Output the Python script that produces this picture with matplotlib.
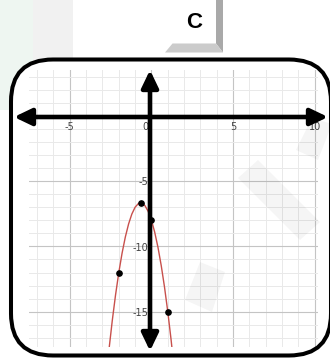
import matplotlib
matplotlib.use('Agg')
import matplotlib.pyplot as plt
from matplotlib.patches import FancyBboxPatch, Polygon, Rectangle

# curve (x, y)
curve_x = [-2.6, -2.4, -2.2, -2.0, -1.8, -1.6, -1.4, -1.2, -1.0, -0.8, -0.667,
           -0.6, -0.4, -0.2, 0.0, 0.2, 0.4, 0.6, 0.8, 1.0, 1.2, 1.4]
curve_y = [-17.88, -15.68, -13.72, -12.0, -10.52, -9.28, -8.28, -7.52, -7.0, -6.72, -6.667,
           -6.68, -6.88, -7.32, -8.0, -8.92, -10.08, -11.48, -13.12, -15.0, -17.12, -19.48]

# marked points
point_x = [-2.0, -0.667, 0.0, 1.0]
point_y = [-12.0, -6.667, -8.0, -15.0]

x_tick_labels = [-5, 0, 5, 10]
y_tick_labels = [-5, -10, -15]
panel_label = 'C'

W, H = 330, 360
fig = plt.figure(figsize=(W / 100, H / 100), dpi=100)

# background layer (pixel coordinates)
bg = fig.add_axes([0, 0, 1, 1], zorder=0)
bg.set_xlim(0, W)
bg.set_ylim(H, 0)
bg.axis('off')
bg.add_patch(Rectangle((0, 0), 33, 110, color='#eef6f1', lw=0))
bg.add_patch(Rectangle((33, 0), 40, 70, color='#f1f1f1', lw=0))
bg.add_patch(FancyBboxPatch((11, 59.5), 320, 296, boxstyle='round,pad=0,rounding_size=42',
                            facecolor='white', edgecolor='none'))

# graph
ax = fig.add_axes([29 / W, 13 / H, 289 / W, 277 / H], zorder=1)
ax.set_xlim(-7.5, 10.2)
ax.set_ylim(-17.7, 3.5)
ax.set_facecolor('white')
ax.set_xticks([-5, 0, 5, 10])
ax.set_yticks([-15, -10, -5, 0])
ax.set_xticks(range(-7, 11), minor=True)
ax.set_yticks(range(-17, 4), minor=True)
ax.grid(which='minor', color='#e9e9e9', lw=0.7)
ax.grid(which='major', color='#c4c4c4', lw=0.8)
ax.tick_params(which='both', length=0, labelbottom=False, labelleft=False)
for s in ax.spines.values():
    s.set_visible(False)
ax.set_axisbelow(True)

ax.plot(curve_x, curve_y, color='#c8504c', lw=1.0, zorder=3)
ax.plot(point_x, point_y, 'o', color='black', ms=3.8, zorder=4)

for t in x_tick_labels:
    dx = -0.35 if t == 0 else 0
    ax.text(t + dx, -0.85, str(t).replace('-', '\u2010'), ha='center', va='center',
            fontsize=7, color='#444444', zorder=5)
for t in y_tick_labels:
    ax.text(-0.2, t - 0.1, str(t).replace('-', '\u2010'), ha='right', va='center',
            fontsize=7, color='#444444', zorder=5)

# top layer: frame, axis arrows, panel label
top = fig.add_axes([0, 0, 1, 1], zorder=2)
top.set_xlim(0, W)
top.set_ylim(H, 0)
top.axis('off')
top.patch.set_alpha(0)

# faint watermark strokes
for poly in ([(238, 178), (258, 160), (320, 222), (300, 240)],
             [(296, 150), (312, 118), (332, 124), (318, 160)],
             [(185, 300), (200, 262), (225, 272), (212, 312)]):
    top.add_patch(Polygon(poly, closed=True, color='black', alpha=0.04, lw=0))

top.add_patch(FancyBboxPatch((11, 59.5), 320, 296, boxstyle='round,pad=0,rounding_size=42',
                             facecolor='none', edgecolor='black', lw=2.9))

arrow_style = '<|-|>,head_length=0.75,head_width=0.36'
top.annotate('', xy=(14, 117), xytext=(328, 117),
             arrowprops=dict(arrowstyle=arrow_style, mutation_scale=14, lw=3.3,
                             color='black', shrinkA=0, shrinkB=0))
top.annotate('', xy=(150, 70), xytext=(150, 351),
             arrowprops=dict(arrowstyle=arrow_style, mutation_scale=14, lw=3.3,
                             color='black', shrinkA=0, shrinkB=0))

# bevelled label tab
top.add_patch(Polygon([(216, 0), (223, 0), (223, 52.5), (216, 43.5)], closed=True,
                      color='#a9a9a9', lw=0))
top.add_patch(Polygon([(172.5, 43.5), (216, 43.5), (223, 52.5), (165, 52.5)], closed=True,
                      color='#cbcbcb', lw=0))
top.text(194, 23, panel_label, ha='center', va='center', fontsize=16, fontweight='bold',
         family='Liberation Sans', color='black')

fig.savefig('out.png', dpi=100)
